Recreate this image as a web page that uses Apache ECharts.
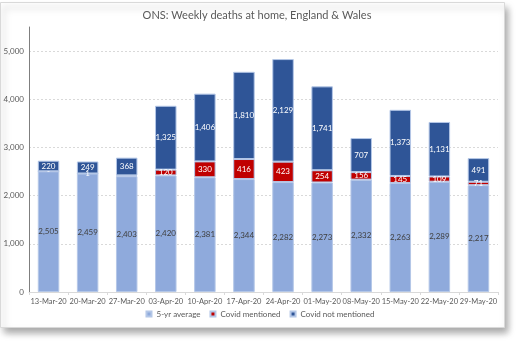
<!DOCTYPE html>
<html>
<head>
<meta charset="utf-8">
<script src="https://cdn.jsdelivr.net/npm/echarts@6/dist/echarts.min.js"></script>
<style>
html,body{margin:0;padding:0;background:#fff;}
#c{width:520px;height:345px;}
</style>
</head>
<body>
<div id="c"></div>
<script>
const categories = ['13-Mar-20','20-Mar-20','27-Mar-20','03-Apr-20','10-Apr-20','17-Apr-20','24-Apr-20','01-May-20','08-May-20','15-May-20','22-May-20','29-May-20'];
const fiveYrAverage = [2505,2459,2403,2420,2381,2344,2282,2273,2332,2263,2289,2217];
const covidMentioned = [0,1,17,120,330,416,423,254,156,145,109,71];
const covidNotMentioned = [220,249,368,1325,1406,1810,2129,1741,707,1373,1131,491];
const yTicks = [0,1000,2000,3000,4000,5000];

const FONT = 'Lato, "Open Sans", sans-serif';
const fmt = v => v === 0 ? '-' : v.toLocaleString('en-US');

const chart = echarts.init(document.getElementById('c'), null, {renderer:'canvas'});
chart.setOption({
  animation:false,
  textStyle:{fontFamily:FONT},
  graphic:[{
    type:'rect', z:-10, silent:true,
    shape:{x:0.5,y:2.5,width:504,height:325},
    style:{fill:'#fff',stroke:'#d9d9d9',lineWidth:1,
      shadowBlur:7,shadowOffsetX:3,shadowOffsetY:5,shadowColor:'rgba(0,0,0,0.35)'}
  }],
  title:{
    text:'ONS: Weekly deaths at home, England & Wales',
    left:252, top:5, textAlign:'center',
    textStyle:{fontFamily:FONT,fontSize:11,fontWeight:'normal',color:'#595959'}
  },
  legend:{
    bottom:22, left:'center',
    itemWidth:5, itemHeight:5, itemGap:9, icon:'rect',
    textStyle:{fontFamily:FONT,fontSize:8,color:'#595959'},
    data:['5-yr average','Covid mentioned','Covid not mentioned']
  },
  grid:{left:29,right:22,top:27,bottom:53,containLabel:false},
  xAxis:{
    type:'category', data:categories,
    axisLine:{lineStyle:{color:'#d9d9d9',width:1}},
    axisTick:{show:true,length:3,lineStyle:{color:'#d9d9d9'}},
    axisLabel:{fontFamily:FONT,fontSize:7.5,color:'#595959',margin:6,interval:0}
  },
  yAxis:{
    type:'value', min:0, max:5500, interval:1000,
    axisLine:{show:true,lineStyle:{color:'#7f7f7f',width:1}},
    axisTick:{show:false},
    axisLabel:{fontFamily:FONT,fontSize:8,color:'#595959',margin:5,showMaxLabel:false,
      formatter:v => yTicks.indexOf(v) >= 0 ? v.toLocaleString('en-US') : ''},
    splitLine:{show:true,showMaxLine:false,lineStyle:{color:'#d9d9d9',type:[2,2],width:1}}
  },
  series:[
    {
      name:'5-yr average', type:'bar', stack:'t', data:fiveYrAverage, barWidth:'55%',
      itemStyle:{color:'#8faadc',borderColor:'#b4c7e7',borderWidth:1},
      label:{show:true,position:'inside',formatter:p=>fmt(p.value),fontFamily:FONT,fontSize:8,color:'#404040'}
    },
    {
      name:'Covid mentioned', type:'bar', stack:'t', data:covidMentioned, barWidth:'55%',
      itemStyle:{color:'#c00000',borderColor:'#b4c7e7',borderWidth:1},
      label:{show:true,position:'inside',formatter:p=>(p.value > 1 && p.value < 50) ? '' : fmt(p.value),fontFamily:FONT,fontSize:8,color:'#ffffff'}
    },
    {
      name:'Covid not mentioned', type:'bar', stack:'t', data:covidNotMentioned, barWidth:'55%',
      itemStyle:{color:'#2f5597',borderColor:'#b4c7e7',borderWidth:1},
      label:{show:true,position:'inside',formatter:p=>fmt(p.value),fontFamily:FONT,fontSize:8,color:'#ffffff'}
    }
  ]
});
</script>
</body>
</html>
